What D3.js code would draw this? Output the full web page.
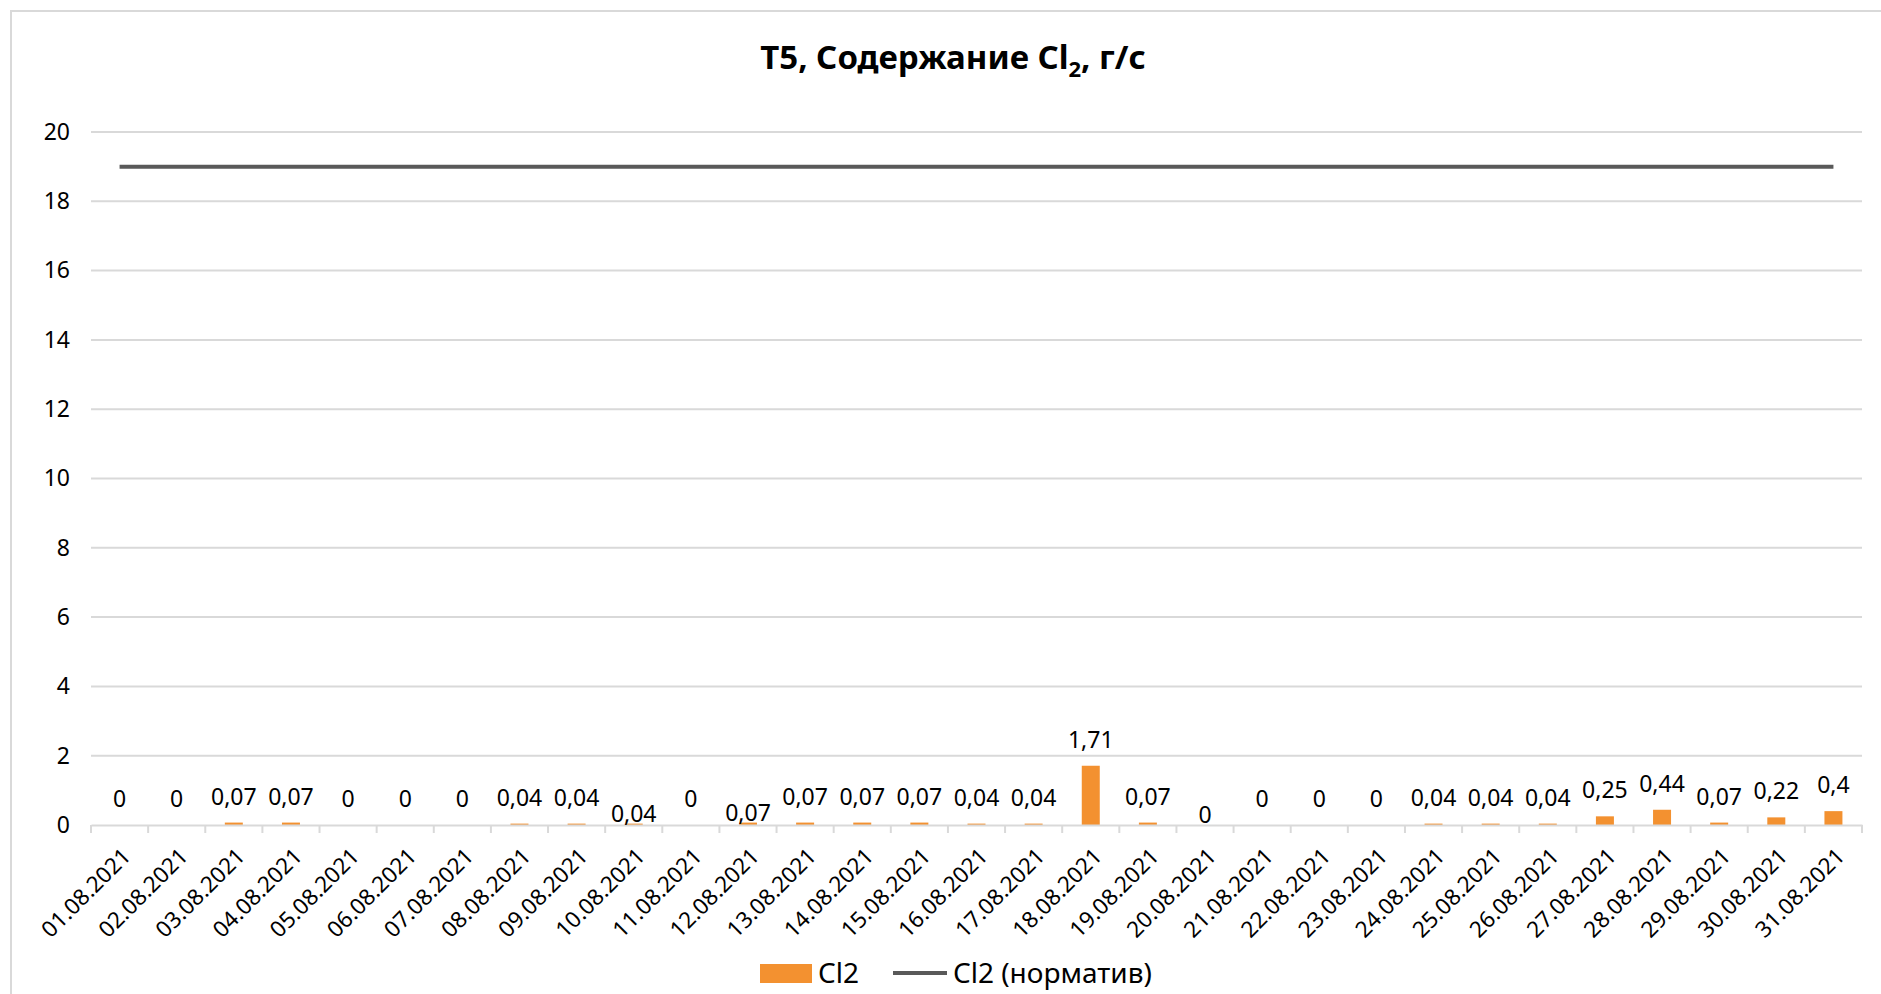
<!DOCTYPE html>
<html><head><meta charset="utf-8">
<script src="https://cdn.jsdelivr.net/npm/d3@7"></script>
<style>
html,body{margin:0;padding:0;background:#fff;}
svg{display:block;font-family:"Noto Sans",sans-serif;}
</style></head>
<body>
<svg id="c" width="1881" height="994"></svg>
<script>
const dates = ["01.08.2021","02.08.2021","03.08.2021","04.08.2021","05.08.2021","06.08.2021","07.08.2021","08.08.2021","09.08.2021","10.08.2021","11.08.2021","12.08.2021","13.08.2021","14.08.2021","15.08.2021","16.08.2021","17.08.2021","18.08.2021","19.08.2021","20.08.2021","21.08.2021","22.08.2021","23.08.2021","24.08.2021","25.08.2021","26.08.2021","27.08.2021","28.08.2021","29.08.2021","30.08.2021","31.08.2021"];
const cl2 = [0,0,0.07,0.07,0,0,0,0.04,0.04,0.04,0,0.07,0.07,0.07,0.07,0.04,0.04,1.71,0.07,0,0,0,0,0.04,0.04,0.04,0.25,0.44,0.07,0.22,0.4];
const cl2Norm = [19,19,19,19,19,19,19,19,19,19,19,19,19,19,19,19,19,19,19,19,19,19,19,19,19,19,19,19,19,19,19];
const yTicks = [0,2,4,6,8,10,12,14,16,18,20];
const seriesNames = ["Cl2","Cl2 (норматив)"];
// labels that were manually moved down in the original chart
const loweredLabels = ["10.08.2021","12.08.2021","20.08.2021"];

const svg = d3.select("#c");
const W = 1881, H = 994;
const m = {left:91, right:1862, top:132, bottom:825};
const orange = "#F39130", gray = "#595959", grid = "#d9d9d9";

svg.append("rect").attr("x",11).attr("y",11).attr("width",W).attr("height",H)
  .attr("fill","#fff").attr("stroke",grid).attr("stroke-width",2);

const x = d3.scaleBand().domain(dates).range([m.left,m.right]).paddingInner(0.685).paddingOuter(0.3425);
const xc = d3.scaleBand().domain(dates).range([m.left,m.right]);
const y = d3.scaleLinear().domain([0,20]).range([m.bottom,m.top]);

// gridlines
svg.append("g").selectAll("line").data(yTicks.filter(t=>t>0)).join("line")
  .attr("x1",m.left).attr("x2",m.right).attr("y1",d=>y(d)).attr("y2",d=>y(d))
  .attr("stroke",grid).attr("stroke-width",2);

// y axis labels
const ya = svg.append("g").attr("transform",`translate(${m.left},0)`)
  .call(d3.axisLeft(y).tickValues(yTicks).tickSize(0).tickPadding(21).tickFormat(d3.format("d")));
ya.select(".domain").remove();
ya.selectAll("text").attr("font-size",23).attr("fill","#000").attr("font-family","Noto Sans");

// bars
svg.append("g").selectAll("rect").data(dates).join("rect")
  .attr("x",d=>x(d)).attr("width",x.bandwidth())
  .attr("y",(d,i)=>y(cl2[i])).attr("height",(d,i)=>y(0)-y(cl2[i]))
  .attr("fill",orange);

// x axis
const xa = svg.append("g").attr("transform",`translate(0,${m.bottom})`)
  .call(d3.axisBottom(xc).tickSize(0).tickFormat(""));
xa.select(".domain").attr("stroke",grid).attr("stroke-width",2);
const bounds = dates.map(d=>xc(d)).concat([m.right]);
svg.append("g").selectAll("line").data(bounds).join("line")
  .attr("x1",d=>d).attr("x2",d=>d).attr("y1",m.bottom).attr("y2",m.bottom+8)
  .attr("stroke",grid).attr("stroke-width",2);

svg.append("g").selectAll("text").data(dates).join("text")
  .attr("transform",d=>`translate(${xc(d)+xc.bandwidth()/2+7},${m.bottom+27}) rotate(-45)`)
  .attr("text-anchor","end").attr("dy","0.35em")
  .attr("font-size",22.5).attr("fill","#000").text(d=>d);

// norm line
const line = d3.line().x(d=>xc(d)+xc.bandwidth()/2).y((d,i)=>y(cl2Norm[dates.indexOf(d)]));
svg.append("path").datum(dates).attr("d",line).attr("fill","none")
  .attr("stroke",gray).attr("stroke-width",4);

// value labels
const fmt = v => String(v).replace(".",",");
svg.append("g").selectAll("text").data(dates).join("text")
  .attr("x",d=>xc(d)+xc.bandwidth()/2)
  .attr("y",(d,i)=>y(cl2[i]) - (loweredLabels.includes(d) ? 10 : 26))
  .attr("text-anchor","middle").attr("dy","0.35em")
  .attr("font-size",23).attr("fill","#000")
  .text((d,i)=>fmt(cl2[i]));

// title
const t = svg.append("text").attr("x",953).attr("y",69).attr("text-anchor","middle")
  .attr("font-size",33).attr("font-weight","bold").attr("fill","#000");
t.append("tspan").text("T5, Содержание Cl");
t.append("tspan").attr("font-size",22).attr("dy",8).text("2");
t.append("tspan").attr("dy",-8).text(", г/с");

// legend
const lg = svg.append("g");
lg.append("rect").attr("x",760).attr("y",964).attr("width",52).attr("height",19).attr("fill",orange);
lg.append("text").attr("x",818).attr("y",973).attr("dy","0.35em").attr("font-size",28).text(seriesNames[0]);
lg.append("line").attr("x1",893).attr("x2",947).attr("y1",973).attr("y2",973).attr("stroke",gray).attr("stroke-width",4);
lg.append("text").attr("x",953).attr("y",973).attr("dy","0.35em").attr("font-size",28).text(seriesNames[1]);
</script>
</body></html>
